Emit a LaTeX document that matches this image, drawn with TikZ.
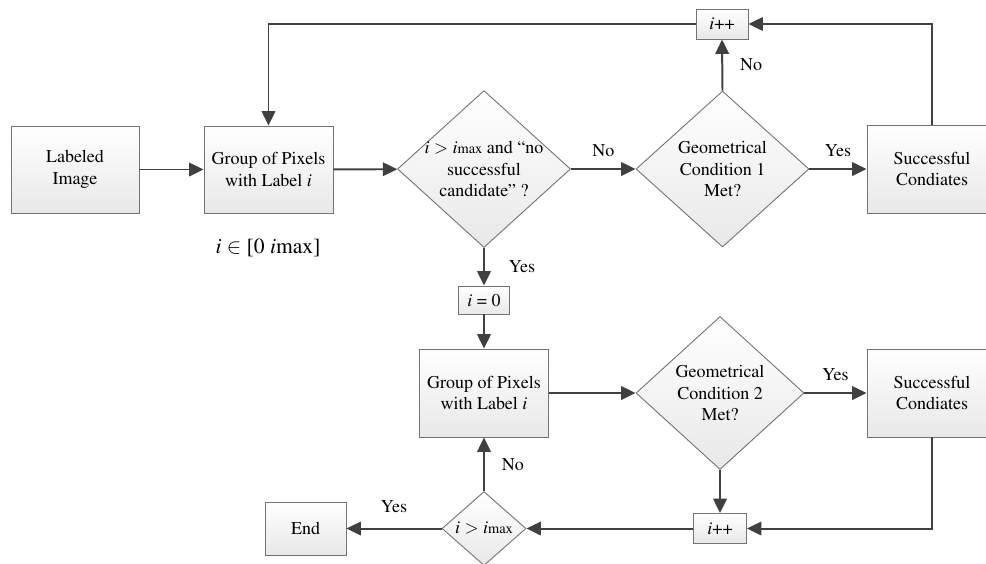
\documentclass[tikz,border=0pt]{standalone}
\usepackage[T1]{fontenc}
\usepackage{mathptmx}
\usetikzlibrary{shapes.geometric,arrows.meta}

% one pixel of the layout
\def\pxl{0.01953cm}

\tikzset{
  block/.style={draw=black!55, line width=0.5pt, top color=white, bottom color=black!9,
    align=center, inner sep=0pt},
  decision/.style={diamond, aspect=1.1, draw=black!55, line width=0.5pt, top color=white,
    bottom color=black!9, align=center, inner sep=0pt},
  sz/.style 2 args={minimum width=#1*\pxl, minimum height=#2*\pxl},
  flow/.style={draw=black!75, line width=1.1pt, -{Triangle[length=8pt,width=7.5pt]}}
}

\begin{document}
\begin{tikzpicture}[x=\pxl, y=-\pxl]
      \useasboundingbox (0,0) rectangle (986,563);

      % upper row
      \node[block, sz={128}{87}] (lab) at (75,169.5) {Labeled\\Image};
      \node[block, sz={129}{87}] (grp1) at (268.5,169.5) {Group of Pixels\\with Label \textit{i}};
      \node[decision, inner sep=-1.6pt, sz={173}{157}] (dec1) at (484,169)
        {\textit{i} $>$ \textit{i}{\footnotesize max} and ``no\\successful\\candidate'' ?};
      \node[decision, sz={173}{156}] (geo1) at (722.5,169) {Geometrical\\Condition 1\\Met?};
      \node[block, sz={130}{88}] (suc1) at (932,169) {Successful\\Condiates};
      \node[block, sz={52}{30}] (inc1) at (722,24) {\textit{i}++};

      % range of the label
      \node (range) at (268,248) {\fontsize{12}{14}\selectfont\textit{i} $\in$ [0 \textit{i}max]};

      % lower row
      \node[block, sz={51}{28}] (zero) at (484,300) {\textit{i} = 0};
      \node[block, sz={129}{88}] (grp2) at (484,393) {Group of Pixels\\with Label \textit{i}};
      \node[decision, sz={168}{153}] (geo2) at (720,393) {Geometrical\\Condition 2\\Met?};
      \node[block, sz={130}{88}] (suc2) at (932,393) {Successful\\Condiates};
      \node[block, sz={53}{30}] (inc2) at (720,528.5) {\textit{i}++};
      \node[decision, aspect=1.14, sz={84}{74}] (dec2) at (484,528.5)
        {\textit{i} $>$ \textit{i}{\footnotesize max}};
      \node[block, sz={81}{53}] (stop) at (305.5,528.5) {End};

      % connectors of the upper row
      \draw[flow] (lab) -- (grp1);
      \draw[flow] (grp1) -- (dec1);
      \draw[flow] (dec1.east) -- (geo1.west) node[midway, above=3pt] {No};
      \draw[flow] (geo1.east) -- (suc1.west) node[midway, above=3pt] {Yes};
      \draw[flow] (geo1.north) -- (inc1.south) node[midway, right=6pt] {No};
      \draw[flow] (suc1.north) |- (inc1.east);
      \draw[flow] (inc1.west) -| (grp1.north);

      % connectors of the lower row
      \draw[flow] (dec1.south) -- (zero.north) node[midway, right=10pt] {Yes};
      \draw[flow] (zero) -- (grp2);
      \draw[flow] (grp2.east) -- (geo2.west);
      \draw[flow] (geo2.east) -- (suc2.west) node[midway, above=3pt] {Yes};
      \draw[flow] (geo2.south) -- (inc2.north);
      \draw[flow] (suc2.south) |- (inc2.east);
      \draw[flow] (inc2.west) -- (dec2.east);
      \draw[flow] (dec2.north) -- (grp2.south) node[midway, right=6pt] {No};
      \draw[flow] (dec2.west) -- (stop.east) node[midway, above=5pt] {Yes};
    \end{tikzpicture}
\end{document}
